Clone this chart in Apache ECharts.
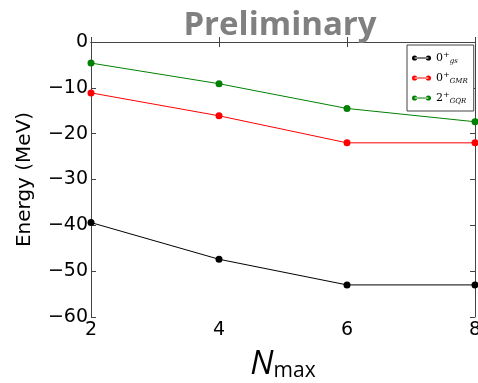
<!DOCTYPE html>
<html><head><meta charset="utf-8">
<script src="https://cdn.jsdelivr.net/npm/echarts@6/dist/echarts.min.js"></script>
<style>html,body{margin:0;padding:0;background:#fff}#c{width:478px;height:383px}</style>
</head><body><div id="c"></div>
<script>
const nmax = [2, 4, 6, 8];
const gs  = [-39.4, -47.4, -53.0, -53.0];
const gmr = [-11.1, -16.1, -22.0, -22.0];
const gqr = [-4.6, -9.1, -14.5, -17.4];
const seriesNames = ['gs', 'GMR', 'GQR'];
const seriesPrefix = {gs: '0', GMR: '0', GQR: '2'};
const xTicks = [2, 4, 6, 8];
const yTicks = [0, -10, -20, -30, -40, -50, -60];

const chart = echarts.init(document.getElementById('c'));
const icon = 'path://M0,3a3,3 0 1,0 6,0a3,3 0 1,0 -6,0Z M16,3a3,3 0 1,0 6,0a3,3 0 1,0 -6,0Z M3,2.5L19,2.5L19,3.5L3,3.5Z';
function mk(name, data, color) {
  return {
    name: name, type: 'line',
    data: nmax.map((x, i) => [x, data[i]]),
    symbol: 'circle', symbolSize: 7,
    lineStyle: {color: color, width: 1},
    itemStyle: {color: color},
    emphasis: {disabled: true}
  };
}
const tickFont = {fontFamily: 'DejaVu Sans', fontSize: 19, color: '#000'};
chart.setOption({
  animation: false,
  title: {
    text: 'Preliminary', left: 275, top: 4, textAlign: 'center',
    textStyle: {fontFamily: 'Open Sans', fontWeight: 'bold', fontSize: 33, color: '#808080'}
  },
  grid: {left: 91, right: 3, top: 42, bottom: 66, outerBoundsMode: 'none', containLabel: false},
  legend: {
    orient: 'vertical', left: 407, top: 45,
    padding: [6, 6, 6, 5], itemGap: 6,
    itemWidth: 19, itemHeight: 6,
    borderColor: '#444', borderWidth: 1, backgroundColor: '#fff',
    icon: icon,
    data: seriesNames,
    formatter: function (name) {
      return '{b|' + seriesPrefix[name] + '}{p|+}{s|' + name + '}';
    },
    textStyle: {
      rich: {
        b: {fontFamily: 'DejaVu Serif', fontSize: 11, color: '#000'},
        p: {fontFamily: 'DejaVu Serif', fontSize: 8, color: '#000', verticalAlign: 'top', padding: [0, 0, 6, 0]},
        s: {fontFamily: 'DejaVu Serif', fontStyle: 'italic', fontSize: 7, color: '#000', padding: [7, 0, 0, 0]}
      }
    }
  },
  xAxis: [{
    type: 'value', min: 2, max: 8, interval: 2,
    axisLine: {lineStyle: {color: '#444', width: 1}},
    axisTick: {inside: true, length: 5, lineStyle: {color: '#444'}},
    splitLine: {show: false},
    axisLabel: Object.assign({margin: 4, formatter: v => xTicks.includes(v) ? String(v) : ''}, tickFont),
    name: '{n|N}{s|max}', nameLocation: 'middle', nameGap: 30,
    nameTextStyle: {
      rich: {
        n: {fontFamily: 'Open Sans', fontStyle: 'italic', fontSize: 33, color: '#000'},
        s: {fontFamily: 'Open Sans', fontSize: 21, color: '#000', padding: [14, 0, 0, 0]}
      }
    }
  }, {
    type: 'value', position: 'top', min: 2, max: 8, interval: 2,
    axisLine: {show: true, lineStyle: {color: '#444', width: 1}},
    axisTick: {inside: true, length: 5, lineStyle: {color: '#444'}},
    axisLabel: {show: false}, splitLine: {show: false}
  }],
  yAxis: [{
    type: 'value', min: -60, max: 0, interval: 10,
    axisLine: {show: true, lineStyle: {color: '#444', width: 1}},
    axisTick: {show: true, inside: true, length: 5, lineStyle: {color: '#444'}},
    splitLine: {show: false},
    axisLabel: Object.assign({margin: 3, formatter: v => yTicks.includes(v) ? (v < 0 ? '\u2212' + (-v) : String(v)) : ''}, tickFont),
    name: 'Energy (MeV)', nameLocation: 'middle', nameRotate: 90, nameGap: 56,
    nameTextStyle: {fontFamily: 'DejaVu Sans', fontSize: 20, color: '#000'}
  }, {
    type: 'value', position: 'right', min: -60, max: 0, interval: 10,
    axisLine: {show: true, lineStyle: {color: '#444', width: 1}},
    axisTick: {show: true, inside: true, length: 5, lineStyle: {color: '#444'}},
    axisLabel: {show: false}, splitLine: {show: false}
  }],
  series: [
    mk('gs', gs, '#000000'),
    mk('GMR', gmr, '#ff0000'),
    mk('GQR', gqr, '#008000')
  ]
});
</script>
</body></html>
